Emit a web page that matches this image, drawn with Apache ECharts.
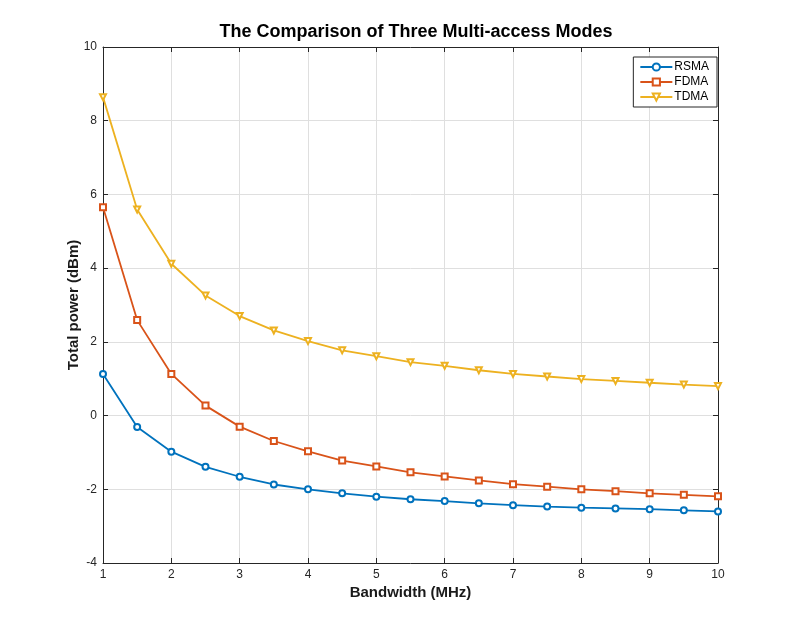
<!DOCTYPE html>
<html>

<head>
    <meta charset="UTF-8" />
    <title>The Comparison of Three Multi-access Modes</title>
    <script src="https://cdn.jsdelivr.net/npm/echarts@6/dist/echarts.min.js"></script>
    <style>
        html, body { margin: 0; padding: 0; background: #fff; }
        #chart { width: 793px; height: 633px; }
    </style>
</head>

<body>
    <div id="chart"></div>

    <script type="text/javascript">
        // bandwidth in MHz
        const bandwidth = [1, 1.5, 2, 2.5, 3, 3.5, 4, 4.5, 5, 5.5, 6, 6.5, 7, 7.5, 8, 8.5, 9, 9.5, 10];
        // total power in dBm
        const rsma = [1.13, -0.31, -0.98, -1.39, -1.66, -1.87, -2.0, -2.11, -2.2, -2.27, -2.32, -2.38, -2.43, -2.47, -2.5, -2.52, -2.54, -2.57, -2.6];
        const fdma = [5.65, 2.59, 1.13, 0.27, -0.3, -0.69, -0.97, -1.22, -1.38, -1.54, -1.65, -1.76, -1.86, -1.93, -2.0, -2.05, -2.11, -2.15, -2.19];
        const tdma = [8.64, 5.59, 4.12, 3.26, 2.7, 2.31, 2.02, 1.77, 1.61, 1.45, 1.35, 1.23, 1.13, 1.06, 0.99, 0.94, 0.89, 0.84, 0.8];

        const xTicks = [1, 2, 3, 4, 5, 6, 7, 8, 9, 10];
        const yTicks = [-4, -2, 0, 2, 4, 6, 8, 10];

        let pairs = (ys) => bandwidth.map((x, i) => [x, ys[i]]);

        let chart = echarts.init(document.getElementById('chart'));

        let axisLine = { show: true, onZero: false, lineStyle: { color: '#262626', width: 1 } };
        let tickStyle = { show: true, inside: true, length: 5, lineStyle: { color: '#262626' } };
        let labelStyle = { color: '#262626', fontSize: 12, fontFamily: 'Helvetica, Arial, sans-serif' };

        let makeSeries = (name, ys, color, symbol, rotate) => ({
            name: name,
            type: 'line',
            data: pairs(ys),
            symbol: symbol,
            symbolRotate: rotate,
            symbolSize: 6,
            showSymbol: true,
            lineStyle: { color: color, width: 1.8 },
            itemStyle: { color: color, borderColor: color, borderWidth: 1.6 },
            emphasis: { disabled: true },
            animation: false
        });

        let option = {
            animation: false,
            backgroundColor: '#fff',
            title: {
                text: 'The Comparison of Three Multi-access Modes',
                left: 411,
                textAlign: 'center',
                top: 18,
                textStyle: { fontSize: 18, fontWeight: 'bold', color: '#000', fontFamily: 'Helvetica, Arial, sans-serif' }
            },
            legend: {
                orient: 'vertical',
                right: 76,
                top: 57,
                padding: [4, 8, 4, 6],
                itemGap: 3,
                itemWidth: 32,
                itemHeight: 9,
                backgroundColor: '#fff',
                borderColor: '#262626',
                borderWidth: 1,
                borderRadius: 0,
                textStyle: { fontSize: 12, color: '#000', fontFamily: 'Helvetica, Arial, sans-serif', padding: [0, 0, 0, -3] },
                data: ['RSMA', 'FDMA', 'TDMA']
            },
            grid: { left: 103, right: 75, top: 47, bottom: 70 },
            xAxis: [
                {
                    type: 'value',
                    min: xTicks[0],
                    max: xTicks[xTicks.length - 1],
                    interval: 1,
                    position: 'bottom',
                    name: 'Bandwidth (MHz)',
                    nameLocation: 'middle',
                    nameGap: 22,
                    nameMoveOverlap: false,
                    nameTextStyle: { fontSize: 15, fontWeight: 'bold', color: '#1a1a1a', fontFamily: 'Helvetica, Arial, sans-serif' },
                    axisLine: axisLine,
                    axisTick: tickStyle,
                    axisLabel: Object.assign({ margin: 6 }, labelStyle),
                    splitLine: { show: true, lineStyle: { color: '#dfdfdf', width: 1 } }
                },
                {
                    type: 'value',
                    min: xTicks[0],
                    max: xTicks[xTicks.length - 1],
                    interval: 1,
                    position: 'top',
                    axisLine: axisLine,
                    axisTick: tickStyle,
                    axisLabel: { show: false },
                    splitLine: { show: false }
                }
            ],
            yAxis: [
                {
                    type: 'value',
                    min: yTicks[0],
                    max: yTicks[yTicks.length - 1],
                    interval: 2,
                    position: 'left',
                    name: 'Total power (dBm)',
                    nameLocation: 'middle',
                    nameGap: 22,
                    nameMoveOverlap: false,
                    nameTextStyle: { fontSize: 15, fontWeight: 'bold', color: '#1a1a1a', fontFamily: 'Helvetica, Arial, sans-serif' },
                    axisLine: axisLine,
                    axisTick: tickStyle,
                    axisLabel: Object.assign({ margin: 6 }, labelStyle),
                    splitLine: { show: true, lineStyle: { color: '#dfdfdf', width: 1 } }
                },
                {
                    type: 'value',
                    min: yTicks[0],
                    max: yTicks[yTicks.length - 1],
                    interval: 2,
                    position: 'right',
                    axisLine: axisLine,
                    axisTick: tickStyle,
                    axisLabel: { show: false },
                    splitLine: { show: false }
                }
            ],
            series: [
                makeSeries('RSMA', rsma, '#0072BD', 'emptyCircle', 0),
                makeSeries('FDMA', fdma, '#D95319', 'emptyRect', 0),
                makeSeries('TDMA', tdma, '#EDB120', 'emptyTriangle', 180)
            ]
        };
        chart.setOption(option);
    </script>
</body>

</html>
